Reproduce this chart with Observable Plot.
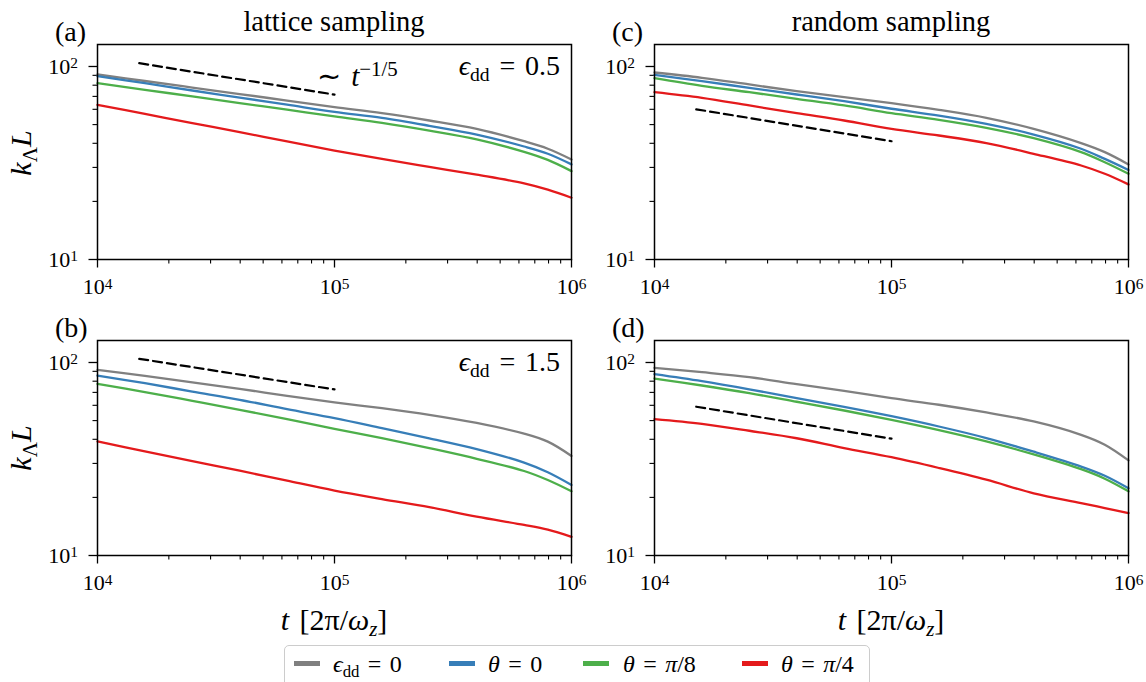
<!DOCTYPE html>
<html>
<head>
<meta charset="utf-8">
<script src="https://cdn.jsdelivr.net/npm/d3@7"></script>
<script src="https://cdn.jsdelivr.net/npm/@observablehq/plot@0.6"></script>
<style>
  body { margin: 0; background: #fff; }
  #fig { position: relative; width: 1146px; height: 682px; overflow: hidden; background: #fff;
         font-family: "Liberation Serif"; color: #000; }
  .lbl { position: absolute; white-space: nowrap; line-height: 1; font-family: "Liberation Serif"; }
  .math { word-spacing: 0.1em; }
  .sub { font-size: 0.7em; position: relative; top: 0.3em; }
  .sup { font-size: 0.72em; position: relative; top: -0.5em; }
  .it { font-style: italic; }
  .legend { position: absolute; left: 284px; top: 645px; width: 586px; height: 60px;
            border: 1.5px solid #cccccc; border-radius: 5px; box-sizing: border-box; background: #fff; }
</style>
</head>
<body>
<div id="fig"></div>
<script>
// sample times (log-spaced), in units of 2π/ω_z
const tSamples = [1e4, 1.585e4, 2.512e4, 3.981e4, 6.310e4, 1e5, 1.585e5, 2.512e5, 3.981e5, 6.310e5, 7.943e5, 1e6];

// series definitions
const seriesKeys = ["eps0", "theta0", "thetaPi8", "thetaPi4"];
const seriesColors = ["#808080", "#377eb8", "#4daf4a", "#e41a1c"];
const seriesLabels = [
  '<span class="it">ϵ</span><span class="sub">dd</span> = 0',
  '<span class="it">θ</span> = 0',
  '<span class="it">θ</span> = <span class="it">π</span>/8',
  '<span class="it">θ</span> = <span class="it">π</span>/4'
];

// (a) lattice sampling, ϵdd = 0.5
const a_eps0     = [90.9, 84.1, 77.8, 72.0, 66.6, 61.6, 57.3, 52.5, 47.5, 41.0, 37.5, 33.0];
const a_theta0   = [89.1, 81.9, 75.1, 69.0, 63.4, 58.2, 54.2, 49.3, 44.4, 38.5, 35.3, 31.1];
const a_thetaPi8 = [82.0, 75.7, 70.0, 64.6, 59.7, 55.1, 51.0, 46.5, 41.9, 36.1, 32.8, 28.7];
const a_thetaPi4 = [63.3, 56.8, 50.9, 45.7, 40.9, 36.7, 33.2, 30.2, 27.5, 24.8, 23.0, 20.9];

// (b) lattice sampling, ϵdd = 1.5
const b_eps0     = [91.6, 85.3, 78.8, 73.0, 67.2, 62.1, 58.0, 53.6, 48.6, 42.8, 38.9, 32.8];
const b_theta0   = [85.6, 78.1, 70.7, 64.1, 57.3, 51.5, 45.7, 40.5, 35.6, 30.3, 27.0, 23.2];
const b_thetaPi8 = [77.5, 70.3, 63.3, 56.9, 50.9, 45.3, 40.6, 36.0, 31.7, 27.4, 24.6, 21.5];
const b_thetaPi4 = [39.0, 34.6, 30.8, 27.5, 24.4, 21.7, 19.6, 17.8, 15.9, 14.4, 13.6, 12.5];

// (c) random sampling, ϵdd = 0.5
const c_eps0     = [93.1, 87.4, 80.7, 74.5, 69.4, 64.6, 59.6, 54.2, 47.5, 40.1, 36.0, 31.1];
const c_theta0   = [90.5, 84.0, 77.5, 71.6, 66.1, 60.4, 55.7, 50.5, 44.4, 37.5, 33.2, 29.1];
const c_thetaPi8 = [87.0, 79.4, 73.6, 68.0, 62.8, 57.3, 52.9, 48.1, 42.5, 36.0, 31.9, 27.8];
const c_thetaPi4 = [73.6, 68.8, 62.8, 57.3, 52.5, 47.5, 43.9, 40.1, 35.3, 30.7, 27.8, 24.5];

// (d) random sampling, ϵdd = 1.5
const d_eps0     = [93.8, 89.1, 84.0, 77.2, 71.3, 65.3, 60.4, 55.1, 49.5, 42.2, 37.5, 31.1];
const d_theta0   = [87.0, 80.0, 72.6, 65.4, 58.9, 52.7, 46.6, 40.6, 34.5, 28.9, 25.9, 22.3];
const d_thetaPi8 = [82.6, 76.0, 69.4, 62.6, 56.4, 50.4, 44.6, 39.0, 33.4, 28.0, 25.0, 21.5];
const d_thetaPi4 = [50.9, 48.1, 44.3, 40.5, 36.0, 32.3, 28.4, 24.7, 21.0, 18.7, 17.6, 16.6];

// t^(-1/5) guide segments
const guideT = [1.5e4, 1e5];
const a_guide = [104, 71.5];
const b_guide = [104.5, 72.5];
const c_guide = [60, 41];
const d_guide = [59, 40.3];

// axis ticks
const xMajor = [1e4, 1e5, 1e6];
const yMajor = [10, 100];
const xMinor = [1e4, 1e5].flatMap(d => [2, 3, 4, 5, 6, 7, 8, 9].map(m => m * d));
const yMinor = [2, 3, 4, 5, 6, 7, 8, 9].map(m => m * 10);

const fig = document.getElementById("fig");

// rewrite "10^n" tick labels as 10 with a raised exponent
function supTicks(svg) {
  d3.select(svg).selectAll('g[aria-label$="tick label"] text').each(function () {
    const m = (this.textContent || "").match(/^10\^(\d+)$/);
    if (!m) return;
    this.textContent = "10";
    d3.select(this).append("tspan").attr("dy", "-0.34em").attr("font-size", "0.7em").text(m[1]);
  });
}

function panel(series, guide, left, top) {
  const rows = [];
  series.forEach((vals, i) => vals.forEach((k, j) => rows.push({t: tSamples[j], k, s: seriesKeys[i]})));
  const guideRows = guideT.map((t, i) => ({t, k: guide[i]}));
  const svg = Plot.plot({
    width: 587, height: 305,
    marginLeft: 97, marginRight: 16, marginTop: 44, marginBottom: 46,
    x: {type: "log", domain: [1e4, 1e6], label: null},
    y: {type: "log", domain: [10, 130], label: null},
    color: {domain: seriesKeys, range: seriesColors},
    style: {position: "absolute", left: left + "px", top: top + "px", background: "transparent",
            overflow: "visible", fontFamily: '"Liberation Serif"', fontSize: "22px", color: "black"},
    marks: [
      Plot.axisX(xMinor, {tickSize: 4.5, strokeWidth: 1.1, tickFormat: () => "", label: null}),
      Plot.axisX(xMajor, {tickSize: 8.5, strokeWidth: 1.3, tickPadding: 10.5, label: null,
                          tickFormat: d => `10^${Math.round(Math.log10(d))}`}),
      Plot.axisY(yMinor, {anchor: "left", tickSize: 4.5, strokeWidth: 1.1, tickFormat: () => "", label: null}),
      Plot.axisY(yMajor, {anchor: "left", tickSize: 8.5, strokeWidth: 1.3, tickPadding: 11, label: null,
                          tickFormat: d => `10^${Math.round(Math.log10(d))}`}),
      Plot.line(rows, {x: "t", y: "k", stroke: "s", z: "s", strokeWidth: 2.3, curve: "catmull-rom"}),
      Plot.line(guideRows, {x: "t", y: "k", stroke: "black", strokeWidth: 2.2, strokeDasharray: "9,5"}),
      Plot.frame({stroke: "black", strokeWidth: 1.5})
    ]
  });
  supTicks(svg);
  fig.appendChild(svg);
}

panel([a_eps0, a_theta0, a_thetaPi8, a_thetaPi4], a_guide, 0, 0);
panel([b_eps0, b_theta0, b_thetaPi8, b_thetaPi4], b_guide, 0, 296);
panel([c_eps0, c_theta0, c_thetaPi8, c_thetaPi4], c_guide, 557, 0);
panel([d_eps0, d_theta0, d_thetaPi8, d_thetaPi4], d_guide, 557, 296);

// text placed over the figure
function label(html, x, y, {anchor = "middle", size = 28, rotate = 0, math = false} = {}) {
  const el = document.createElement("div");
  el.className = "lbl" + (math ? " math" : "");
  el.innerHTML = html;
  el.style.fontSize = size + "px";
  el.style.left = x + "px";
  el.style.top = y + "px";
  const tx = anchor === "start" ? "0" : anchor === "end" ? "-100%" : "-50%";
  el.style.transform = `translate(${tx}, -50%)` + (rotate ? ` rotate(${rotate}deg)` : "");
  fig.appendChild(el);
}

label("(a)", 55, 32, {anchor: "start"});
label("(b)", 55, 328, {anchor: "start"});
label("(c)", 612, 32, {anchor: "start"});
label("(d)", 612, 328, {anchor: "start"});
label("lattice sampling", 334, 22, {size: 28.5});
label("random sampling", 891, 22, {size: 28.5});

const yLabel = '<span class="it">k</span><span class="sub">Λ</span><span class="it">L</span>';
label(yLabel, 21, 153, {rotate: -90, size: 30});
label(yLabel, 21, 448, {rotate: -90, size: 30});

const xLabel = '<span class="it">t</span> [2π/<span class="it">ω</span><span class="sub it">z</span>]';
label(xLabel, 334, 620, {size: 30, math: true});
label(xLabel, 891, 620, {size: 30, math: true});

label('<span class="it">ϵ</span><span class="sub">dd</span> = 0.5', 560, 66, {anchor: "end", math: true});
label('<span class="it">ϵ</span><span class="sub">dd</span> = 1.5', 560, 362, {anchor: "end", math: true});
label('∼ <span class="it">t</span><span class="sup">−1/5</span>', 317, 76, {anchor: "start", size: 29, math: true});

// legend
const legend = document.createElement("div");
legend.className = "legend";
fig.appendChild(legend);
const swatchX = [293, 448, 582, 741];
const textX = [333, 488, 623, 781];
seriesKeys.forEach((key, i) => {
  const sw = document.createElement("div");
  sw.style.cssText = `position:absolute;left:${swatchX[i] - 284}px;top:15px;width:26px;height:4.5px;background:${seriesColors[i]};`;
  legend.appendChild(sw);
});
seriesLabels.forEach((html, i) => label(html, textX[i], 664, {anchor: "start", size: 24, math: true}));
</script>
</body>
</html>
